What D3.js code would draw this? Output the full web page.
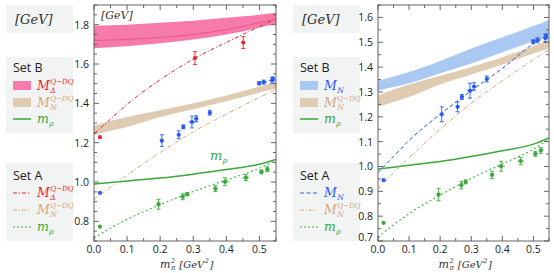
<!DOCTYPE html>
<html>
<head>
<meta charset="utf-8">
<script src="https://cdn.jsdelivr.net/npm/d3@7/dist/d3.min.js"></script>
<style>
  body { margin: 0; background: #fff; }
  svg { display: block; }
  .tick-label { font-family: "Open Sans", "DejaVu Sans", sans-serif; font-size: 10.5px; fill: #222; }
  .serif { font-family: "DejaVu Serif", "Liberation Serif", serif; font-style: italic; }
  .sans { font-family: "Open Sans", "DejaVu Sans", sans-serif; }
</style>
</head>
<body>
<svg id="chart" width="554" height="273"></svg>
<script>
const xGrid = [0, 0.05, 0.1, 0.2, 0.3, 0.4, 0.5, 0.55];

// Set B bands
const deltaBandHi = [1.795, 1.797, 1.80, 1.81, 1.82, 1.835, 1.85, 1.86];
const deltaBandLo = [1.68, 1.685, 1.69, 1.705, 1.725, 1.75, 1.785, 1.805];
const deltaBandMid = [1.72, 1.722, 1.725, 1.735, 1.75, 1.775, 1.81, 1.83];
const nucQdqHi = [1.285, 1.31, 1.33, 1.365, 1.40, 1.44, 1.485, 1.51];
const nucQdqLo = [1.24, 1.26, 1.28, 1.33, 1.37, 1.41, 1.455, 1.475];
const nucBandHi = [1.345, 1.362, 1.38, 1.425, 1.475, 1.52, 1.565, 1.59];
const nucBandLo = [1.305, 1.32, 1.335, 1.375, 1.415, 1.46, 1.505, 1.53];
const rhoB = [0.99, 0.997, 1.005, 1.02, 1.04, 1.063, 1.09, 1.115];

// Set A curves
const deltaA = [1.245, 1.32, 1.395, 1.52, 1.625, 1.71, 1.79, 1.83];
const nucA = [0.975, 1.04, 1.105, 1.21, 1.305, 1.395, 1.495, 1.535];
const nucQdqA = [0.91, 0.975, 1.035, 1.15, 1.255, 1.345, 1.43, 1.47];
const rhoA = [0.715, 0.765, 0.81, 0.885, 0.952, 1.01, 1.07, 1.11];

// lattice points: [m_pi^2, mass, xErr, yErr]
const deltaPts = [[0.018, 1.228, 0, 0], [0.305, 1.63, 0.004, 0.033], [0.451, 1.709, 0.004, 0.03]];
const nucleonPts = [
  [0.018, 0.945, 0, 0], [0.205, 1.21, 0.005, 0.03], [0.256, 1.24, 0.005, 0.02],
  [0.27, 1.28, 0.004, 0.01], [0.296, 1.305, 0.01, 0.03], [0.309, 1.322, 0.006, 0.015],
  [0.35, 1.352, 0.006, 0.012], [0.499, 1.502, 0.006, 0.008], [0.513, 1.508, 0.01, 0.01],
  [0.538, 1.517, 0.01, 0.015], [0.541, 1.524, 0.005, 0.01]
];
const rhoPts = [
  [0.018, 0.773, 0, 0], [0.195, 0.887, 0.006, 0.025], [0.268, 0.925, 0.006, 0.015],
  [0.282, 0.938, 0.004, 0.008], [0.367, 0.966, 0.005, 0.015], [0.396, 1.001, 0.012, 0.02],
  [0.459, 1.022, 0.01, 0.015], [0.506, 1.051, 0.007, 0.01], [0.524, 1.065, 0.004, 0.012]
];

const xTicks = [0.0, 0.1, 0.2, 0.3, 0.4, 0.5];
const yTicksLeft = [0.8, 1.0, 1.2, 1.4, 1.6, 1.8];
const yTicksRight = [0.7, 0.8, 0.9, 1.0, 1.1, 1.2, 1.3, 1.4, 1.5, 1.6];

const C = {
  pink: "#f67aaa", pinkLine: "#e44c86", red: "#e8262e",
  tan: "#dfcbb1", tanLine: "#c8a47c", tanDash: "#d2a77a",
  blueBand: "#a9c9f2", blue: "#2a5cf0", green: "#3aa83a", greenDot: "#45bb45",
  legendBg: "#f2f3f3"
};

const svg = d3.select("#chart");

// math style label: base with stacked sub/superscript, returns end x
function mathLabel(g, x, y, base, sub, sup, color, size) {
  const t = g.append("text").attr("class", "serif").attr("x", x).attr("y", y)
    .attr("font-size", size).attr("fill", color).text(base);
  const w = t.node().getComputedTextLength();
  let end = x + w;
  if (sub) {
    const s = g.append("text").attr("class", "serif").attr("x", x + w + 0.5).attr("y", y + size * 0.22)
      .attr("font-size", size * 0.6).attr("fill", color).text(sub);
    end = Math.max(end, x + w + 0.5 + s.node().getComputedTextLength());
  }
  if (sup) {
    const s = g.append("text").attr("class", "serif").attr("x", x + w + 0.5).attr("y", y - size * 0.5)
      .attr("font-size", size * 0.57).attr("fill", color).text(sup);
    end = Math.max(end, x + w + 0.5 + s.node().getComputedTextLength());
  }
  return end;
}

function legendBoxes(x0) {
  const g = svg.append("g");
  g.append("rect").attr("x", x0).attr("y", 5).attr("width", 67).attr("height", 28).attr("fill", C.legendBg);
  g.append("text").attr("class", "serif").attr("x", x0 + 9).attr("y", 24).attr("font-size", 13)
    .attr("fill", "#333").text("[GeV]");
  g.append("rect").attr("x", x0).attr("y", 57).attr("width", 67).attr("height", 76).attr("fill", C.legendBg);
  g.append("text").attr("class", "sans").attr("x", x0 + 7).attr("y", 72).attr("font-size", 12.5)
    .attr("fill", "#222").text("Set B");
  g.append("rect").attr("x", x0).attr("y", 163).attr("width", 67).attr("height", 78).attr("fill", C.legendBg);
  g.append("text").attr("class", "sans").attr("x", x0 + 7).attr("y", 180).attr("font-size", 12.5)
    .attr("fill", "#222").text("Set A");
  return g;
}

// legend rows: Set B at 86/103/119, Set A at 193/210/227
function legendRows(g, x0, rowsB, rowsA) {
  const yB = [86, 103, 119], yA = [193, 210, 227];
  [[rowsB, yB], [rowsA, yA]].forEach(([rows, ys]) => rows.forEach((r, i) => {
    const yy = ys[i];
    if (r.swatch) {
      g.append("rect").attr("x", x0 + 7).attr("y", yy - 5).attr("width", 18).attr("height", 9).attr("fill", r.swatch);
    } else {
      g.append("line").attr("x1", x0 + 7).attr("x2", x0 + 25).attr("y1", yy).attr("y2", yy)
        .attr("stroke", r.stroke).attr("stroke-width", r.width || 1.1).attr("stroke-dasharray", r.dash || null);
    }
    mathLabel(g, x0 + 31, yy + 4, r.base, r.sub, r.sup, r.color, 12.5);
  }));
}

{
  const g = legendBoxes(6);
  legendRows(g, 6, [
    { swatch: C.pink, base: "M", sub: "Δ", sup: "Q−DQ", color: C.red },
    { swatch: C.tan, base: "M", sub: "N", sup: "Q−DQ", color: C.tanDash },
    { stroke: C.green, width: 1.5, base: "m", sub: "ρ", color: C.green }
  ], [
    { stroke: C.red, dash: "4,2,1,2", base: "M", sub: "Δ", sup: "Q−DQ", color: C.red },
    { stroke: C.tanDash, dash: "4,2,1,2", base: "M", sub: "N", sup: "Q−DQ", color: C.tanDash },
    { stroke: C.greenDot, dash: "2,2", base: "m", sub: "ρ", color: C.green }
  ]);
}
{
  const g = legendBoxes(293);
  legendRows(g, 293, [
    { swatch: C.blueBand, base: "M", sub: "N", color: C.blue },
    { swatch: C.tan, base: "M", sub: "N", sup: "Q−DQ", color: C.tanDash },
    { stroke: C.green, width: 1.5, base: "m", sub: "ρ", color: C.green }
  ], [
    { stroke: C.blue, dash: "4,2.5", base: "M", sub: "N", color: C.blue },
    { stroke: C.tanDash, dash: "4,2,1,2", base: "M", sub: "N", sup: "Q−DQ", color: C.tanDash },
    { stroke: C.greenDot, dash: "2,2", base: "m", sub: "ρ", color: C.green }
  ]);
}

function drawPanel(opt) {
  const x = d3.scaleLinear().domain([0, 0.55]).range([opt.left, opt.right]);
  const y = d3.scaleLinear().domain(opt.yDomain).range([241, 5]);
  const g = svg.append("g");
  const clipId = "clip" + opt.left;
  g.append("clipPath").attr("id", clipId).append("rect")
    .attr("x", opt.left).attr("y", 5).attr("width", opt.right - opt.left).attr("height", 236);
  const plot = g.append("g").attr("clip-path", `url(#${clipId})`);

  const area = (hi, lo) => d3.area().curve(d3.curveMonotoneX)
    .x((d, i) => x(xGrid[i])).y0((d, i) => y(lo[i])).y1((d, i) => y(hi[i]))(hi);
  const line = (arr) => d3.line().curve(d3.curveMonotoneX)
    .x((d, i) => x(xGrid[i])).y(d => y(d))(arr);

  opt.bands.forEach(b => {
    plot.append("path").attr("d", area(b.hi, b.lo)).attr("fill", b.fill);
    if (b.mid) plot.append("path").attr("d", line(b.mid)).attr("fill", "none")
      .attr("stroke", b.midColor).attr("stroke-width", 0.8);
  });
  opt.lines.forEach(l => {
    plot.append("path").attr("d", line(l.data)).attr("fill", "none")
      .attr("stroke", l.color).attr("stroke-width", l.width || 1.2)
      .attr("stroke-dasharray", l.dash || null);
  });
  opt.points.forEach(p => {
    const pg = plot.append("g").attr("stroke", p.color).attr("fill", p.color).attr("stroke-width", 0.9);
    p.data.forEach(d => {
      const cx = x(d[0]), cy = y(d[1]);
      if (d[3] > 0) {
        pg.append("line").attr("x1", cx).attr("x2", cx).attr("y1", y(d[1] - d[3])).attr("y2", y(d[1] + d[3]));
        [d[1] - d[3], d[1] + d[3]].forEach(v => pg.append("line")
          .attr("x1", cx - 2).attr("x2", cx + 2).attr("y1", y(v)).attr("y2", y(v)));
      }
      if (d[2] > 0) {
        pg.append("line").attr("x1", x(d[0] - d[2])).attr("x2", x(d[0] + d[2])).attr("y1", cy).attr("y2", cy);
      }
      pg.append("circle").attr("cx", cx).attr("cy", cy).attr("r", 2.1).attr("stroke", "none");
    });
  });

  // frame with ticks on all sides
  const frame = g.append("g").attr("stroke", "#555").attr("stroke-width", 0.9);
  frame.append("rect").attr("x", opt.left).attr("y", 5).attr("width", opt.right - opt.left)
    .attr("height", 236).attr("fill", "none");
  d3.range(0, 0.5501, 0.05).forEach(v => {
    const major = Math.abs(v * 10 - Math.round(v * 10)) < 1e-6;
    const len = major ? 5 : 3;
    frame.append("line").attr("x1", x(v)).attr("x2", x(v)).attr("y1", 241).attr("y2", 241 - len);
    frame.append("line").attr("x1", x(v)).attr("x2", x(v)).attr("y1", 5).attr("y2", 5 + len);
  });
  d3.range(Math.ceil(opt.yDomain[0] / 0.05) * 0.05, opt.yDomain[1] + 1e-6, 0.05).forEach(v => {
    const major = opt.yMajor.some(t => Math.abs(t - v) < 1e-6);
    const len = major ? 5 : 3;
    frame.append("line").attr("x1", opt.left).attr("x2", opt.left + len).attr("y1", y(v)).attr("y2", y(v));
    frame.append("line").attr("x1", opt.right).attr("x2", opt.right - len).attr("y1", y(v)).attr("y2", y(v));
  });

  g.selectAll(".xl").data(xTicks).join("text").attr("class", "tick-label")
    .attr("x", d => x(d)).attr("y", 253).attr("text-anchor", "middle").text(d => d.toFixed(1));
  g.selectAll(".yl").data(opt.yMajor).join("text").attr("class", "tick-label")
    .attr("x", opt.left - 5).attr("y", d => Math.min(y(d), 237) + 4).attr("text-anchor", "end")
    .text(d => d.toFixed(1));

  // x axis title: m_pi^2 [GeV^2]
  const cx = (opt.left + opt.right) / 2 - 25;
  let ex = mathLabel(g, cx, 268, "m", "π", "2", "#333", 11);
  const t1 = g.append("text").attr("class", "serif").attr("x", ex + 4).attr("y", 268).attr("font-size", 10)
    .attr("fill", "#333").text("[GeV");
  ex = ex + 4 + t1.node().getComputedTextLength();
  const t2 = g.append("text").attr("class", "serif").attr("x", ex + 0.5).attr("y", 263).attr("font-size", 6.5)
    .attr("fill", "#333").text("2");
  ex = ex + 0.5 + t2.node().getComputedTextLength();
  g.append("text").attr("class", "serif").attr("x", ex + 0.5).attr("y", 268).attr("font-size", 10)
    .attr("fill", "#333").text("]");
  return { g, x, y };
}

// left panel: Delta
const L = drawPanel({
  left: 94, right: 276, yDomain: [0.7, 1.9], yMajor: yTicksLeft,
  bands: [
    { hi: deltaBandHi, lo: deltaBandLo, fill: C.pink, mid: deltaBandMid, midColor: C.pinkLine },
    { hi: nucQdqHi, lo: nucQdqLo, fill: C.tan }
  ],
  lines: [
    { data: rhoB, color: C.green, width: 1.5 },
    { data: deltaA, color: C.red, dash: "4,2,1,2", width: 1 },
    { data: nucQdqA, color: C.tanDash, dash: "4,2,1,2", width: 1 },
    { data: rhoA, color: C.greenDot, dash: "2,2.5", width: 1.2 }
  ],
  points: [
    { data: deltaPts, color: C.red },
    { data: nucleonPts, color: C.blue },
    { data: rhoPts, color: C.green }
  ]
});
L.g.append("text").attr("class", "serif").attr("x", 101).attr("y", 19).attr("font-size", 11)
  .attr("fill", "#333").text("[GeV]");
mathLabel(L.g, 210, 160, "m", "ρ", null, C.green, 13);

// right panel: nucleon
drawPanel({
  left: 378, right: 549, yDomain: [0.7, 1.65], yMajor: yTicksRight,
  bands: [
    { hi: nucBandHi, lo: nucBandLo, fill: C.blueBand },
    { hi: nucQdqHi, lo: nucQdqLo, fill: C.tan }
  ],
  lines: [
    { data: rhoB, color: C.green, width: 1.5 },
    { data: nucA, color: C.blue, dash: "4,2.5", width: 1 },
    { data: nucQdqA, color: C.tanDash, dash: "4,2,1,2", width: 1 },
    { data: rhoA, color: C.greenDot, dash: "2,2.5", width: 1.2 }
  ],
  points: [
    { data: nucleonPts, color: C.blue },
    { data: rhoPts, color: C.green }
  ]
});
</script>
</body>
</html>
